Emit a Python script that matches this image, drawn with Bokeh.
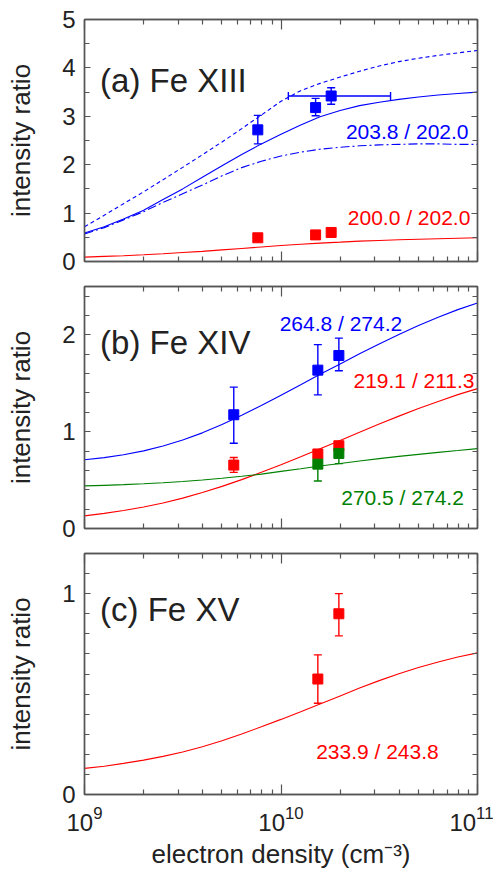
from bokeh.plotting import figure
from bokeh.layouts import column
from bokeh.models import (Range1d, LinearAxis, LogAxis, FixedTicker, SingleIntervalTicker,
                          Whisker, TeeHead, ColumnDataSource, Label, CustomJSTickFormatter)
from bokeh.embed import file_html
from bokeh.resources import INLINE

FONT = "Liberation Sans"
BLUE = "#0000ff"
RED = "#ff0000"
GREEN = "#008000"

# ---------------- data ----------------
density = [1.00e9, 1.26e9, 1.58e9, 2.00e9, 2.51e9, 3.16e9, 3.98e9, 5.01e9, 6.31e9, 7.94e9,
           1.00e10, 1.26e10, 1.58e10, 2.00e10, 2.51e10, 3.16e10, 3.98e10, 5.01e10, 6.31e10,
           7.94e10, 1.00e11]

# (a) Fe XIII  -- 203.8/202.0 (solid, dashed, dash-dot) and 200.0/202.0
a_blue_solid = [0.59, 0.72, 0.88, 1.06, 1.28, 1.50, 1.74, 1.98, 2.21, 2.43, 2.63,
                2.82, 2.99, 3.12, 3.22, 3.29, 3.35, 3.40, 3.44, 3.47, 3.50]
a_blue_dash = [0.72, 0.955, 1.195, 1.44, 1.69, 1.945, 2.205, 2.47, 2.745, 3.025, 3.31,
               3.53, 3.68, 3.81, 3.93, 4.04, 4.13, 4.20, 4.26, 4.31, 4.36]
a_blue_dashdot = [0.57, 0.70, 0.86, 1.03, 1.22, 1.40, 1.58, 1.77, 1.94, 2.07, 2.18,
                  2.26, 2.32, 2.36, 2.39, 2.41, 2.42, 2.43, 2.43, 2.42, 2.42]
a_red_curve = [0.09, 0.105, 0.12, 0.14, 0.16, 0.185, 0.21, 0.24, 0.27, 0.30, 0.33,
               0.355, 0.38, 0.40, 0.42, 0.435, 0.45, 0.46, 0.47, 0.48, 0.49]
a_obs_x = [7.62e9, 1.50e10, 1.80e10]
a_blue_y = [2.72, 3.18, 3.42]
a_blue_lo = [2.43, 3.01, 3.25]
a_blue_hi = [3.02, 3.37, 3.59]
a_blue_xlo = [1.09e10]
a_blue_xhi = [3.61e10]
a_blue_xerr_y = [3.42]
a_red_y = [0.49, 0.55, 0.60]

# (b) Fe XIV
b_blue_curve = [0.71, 0.732, 0.762, 0.802, 0.852, 0.914, 0.988, 1.074, 1.169, 1.271, 1.377,
                1.485, 1.593, 1.70, 1.805, 1.907, 2.005, 2.098, 2.183, 2.261, 2.33]
b_red_curve = [0.13, 0.156, 0.186, 0.222, 0.264, 0.314, 0.371, 0.435, 0.505, 0.58, 0.659,
               0.741, 0.825, 0.91, 0.995, 1.079, 1.161, 1.239, 1.313, 1.383, 1.445]
b_green_curve = [0.44, 0.446, 0.453, 0.462, 0.473, 0.486, 0.501, 0.519, 0.539, 0.562, 0.59,
                 0.617, 0.645, 0.672, 0.698, 0.722, 0.745, 0.766, 0.786, 0.805, 0.825]
b_obs_x = [5.75e9, 1.54e10, 1.97e10]
b_blue_y = [1.175, 1.636, 1.787]
b_blue_lo = [0.88, 1.38, 1.63]
b_blue_hi = [1.46, 1.90, 1.967]
b_red_y = [0.655, 0.77, 0.855]
b_red_lo = [0.58, 0.74, 0.825]
b_red_hi = [0.733, 0.80, 0.885]
b_green_x = [1.54e10, 1.97e10]
b_green_y = [0.665, 0.775]
b_green_lo = [0.49, 0.67]
b_green_hi = [0.80, 0.87]

# (c) Fe XV
c_red_curve = [0.13, 0.141, 0.155, 0.171, 0.19, 0.212, 0.238, 0.268, 0.301, 0.337, 0.374,
               0.412, 0.451, 0.491, 0.53, 0.567, 0.601, 0.632, 0.66, 0.685, 0.705]
c_obs_x = [1.54e10, 1.97e10]
c_red_y = [0.575, 0.90]
c_red_lo = [0.454, 0.79]
c_red_hi = [0.695, 1.00]

x_major = [1e9, 1e10, 1e11]
x_minor = [k * 1e9 for k in range(2, 10)] + [k * 1e10 for k in range(2, 10)]

FRAME = "#555555"
TEXT = "#222222"


def make_fig(ymax, minor, frame_h, top, bottom, show_x):
    p = figure(x_axis_type="log", x_range=Range1d(1e9, 1e11), y_range=Range1d(0, ymax),
               frame_width=393, frame_height=frame_h,
               min_border_left=84, min_border_right=16,
               min_border_top=top, min_border_bottom=bottom,
               x_axis_location=None, y_axis_location=None,
               output_backend="svg", toolbar_location=None)
    p.outline_line_color = FRAME
    p.outline_line_width = 1.4
    p.background_fill_color = "white"
    p.border_fill_color = "white"
    for g in p.grid:
        g.visible = False

    yt = SingleIntervalTicker(interval=1, num_minor_ticks=minor)
    xt = FixedTicker(ticks=x_major, minor_ticks=x_minor)

    def style(ax, labels):
        ax.axis_line_color = FRAME
        ax.axis_line_width = 1.4
        ax.major_tick_line_color = FRAME
        ax.minor_tick_line_color = FRAME
        ax.major_tick_line_width = 1.2
        ax.minor_tick_line_width = 1.2
        ax.major_tick_out = 0
        ax.minor_tick_out = 0
        ax.major_label_text_font = FONT
        ax.major_label_text_color = TEXT
        if labels:
            ax.major_label_text_font_size = "24px"
        else:
            ax.formatter = CustomJSTickFormatter(code="return ''")
            ax.major_label_text_font_size = "6px"
            ax.major_label_standoff = 0

    left = LinearAxis(ticker=yt, axis_label="intensity ratio")
    style(left, True)
    left.major_tick_in = 6
    left.minor_tick_in = 5
    left.major_label_standoff = 9
    left.axis_label_text_font = FONT
    left.axis_label_text_font_size = "26px"
    left.axis_label_text_font_style = "normal"
    left.axis_label_text_color = TEXT
    left.axis_label_standoff = 23
    p.add_layout(left, "left")

    right = LinearAxis(ticker=yt)
    style(right, False)
    right.major_tick_in = 6
    right.minor_tick_in = 5
    p.add_layout(right, "right")

    top_ax = LogAxis(ticker=xt)
    style(top_ax, False)
    top_ax.major_tick_in = 10
    top_ax.minor_tick_in = 5
    p.add_layout(top_ax, "above")

    bot = LogAxis(ticker=xt)
    style(bot, show_x)
    bot.major_tick_in = 10
    bot.minor_tick_in = 5
    if show_x:
        bot.major_label_standoff = 11
        bot.axis_label = "electron density (cm\u207b\u00b3)"
        bot.axis_label_text_font = FONT
        bot.axis_label_text_font_size = "26px"
        bot.axis_label_text_font_style = "normal"
        bot.axis_label_text_color = TEXT
        bot.axis_label_standoff = 5
    p.add_layout(bot, "below")
    return p


def errbars(p, xs, ys, lo, hi, color, marker_size=10):
    src = ColumnDataSource(dict(x=xs, y=ys, lo=lo, hi=hi))
    w = Whisker(source=src, base="x", lower="lo", upper="hi", dimension="height",
                line_color=color, line_width=1.4,
                lower_head=TeeHead(size=8, line_color=color, line_width=1.4),
                upper_head=TeeHead(size=8, line_color=color, line_width=1.4))
    p.add_layout(w)
    p.scatter("x", "y", source=src, marker="square", size=marker_size,
              fill_color=color, line_color=color)


def label(p, text, x, y, color, size="21px", align="right"):
    p.add_layout(Label(x=x, y=y, text=text, text_color=color, text_font=FONT,
                       text_font_size=size, text_align=align, text_baseline="alphabetic"))


LW = 1.1

# ---------------- panel (a) ----------------
pa = make_fig(5, 2, 242, 19, 17, False)
pa.line(density, a_blue_dash, line_color=BLUE, line_width=LW, line_dash="4 3")
pa.line(density, a_blue_dashdot, line_color=BLUE, line_width=LW, line_dash="9 3 2 3")
pa.line(density, a_blue_solid, line_color=BLUE, line_width=LW)
pa.line(density, a_red_curve, line_color=RED, line_width=LW)
xsrc = ColumnDataSource(dict(y=a_blue_xerr_y, lo=a_blue_xlo, hi=a_blue_xhi))
pa.add_layout(Whisker(source=xsrc, base="y", lower="lo", upper="hi", dimension="width",
                      line_color=BLUE, line_width=1.4,
                      lower_head=TeeHead(size=8, line_color=BLUE, line_width=1.4),
                      upper_head=TeeHead(size=8, line_color=BLUE, line_width=1.4)))
errbars(pa, a_obs_x, a_blue_y, a_blue_lo, a_blue_hi, BLUE)
pa.scatter(a_obs_x, a_red_y, marker="square", size=10, fill_color=RED, line_color=RED)
label(pa, "(a) Fe XIII", 1.2e9, 3.73, TEXT, size="33px", align="left")
label(pa, "203.8 / 202.0", 9.0e10, 2.69, BLUE)
label(pa, "200.0 / 202.0", 9.2e10, 0.90, RED)

# ---------------- panel (b) ----------------
pb = make_fig(2.5, 5, 242, 8, 17, False)
pb.line(density, b_blue_curve, line_color=BLUE, line_width=LW)
pb.line(density, b_red_curve, line_color=RED, line_width=LW)
pb.line(density, b_green_curve, line_color=GREEN, line_width=LW)
errbars(pb, b_obs_x, b_blue_y, b_blue_lo, b_blue_hi, BLUE)
errbars(pb, b_obs_x, b_red_y, b_red_lo, b_red_hi, RED)
errbars(pb, b_green_x, b_green_y, b_green_lo, b_green_hi, GREEN)
label(pb, "(b) Fe XIV", 1.2e9, 1.92, TEXT, size="33px", align="left")
label(pb, "264.8 / 274.2", 4.14e10, 2.12, BLUE)
label(pb, "219.1 / 211.3", 9.66e10, 1.526, RED)
label(pb, "270.5 / 274.2", 8.52e10, 0.32, GREEN)

# ---------------- panel (c) ----------------
pc = make_fig(1.2, 10, 241, 8, 80, True)
pc.line(density, c_red_curve, line_color=RED, line_width=LW)
errbars(pc, c_obs_x, c_red_y, c_red_lo, c_red_hi, RED)
label(pc, "(c) Fe XV", 1.2e9, 0.922, TEXT, size="33px", align="left")
label(pc, "233.9 / 243.8", 6.35e10, 0.214, RED)

layout = column(pa, pb, pc, spacing=0)
open("out.html", "w").write(file_html(layout, INLINE))
